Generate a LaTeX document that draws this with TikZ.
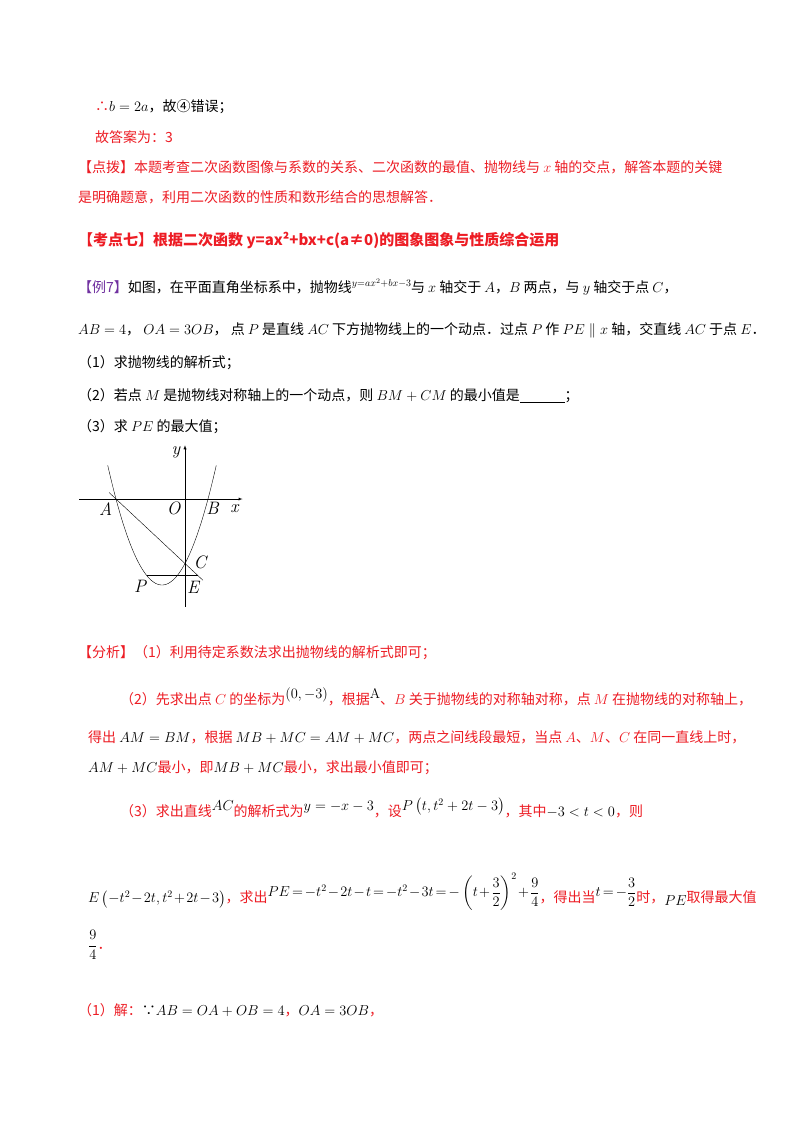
\documentclass[tikz,border=0pt]{standalone}
\usepackage{amsmath}
\usepackage{fontspec}
\newfontfamily\cjk{Noto Sans CJK SC}
\definecolor{rd}{RGB}{237,28,36}
\definecolor{pu}{RGB}{112,48,160}
\newcommand{\up}[1]{\raisebox{6pt}{\textcolor{black}{#1}}}
\begin{document}
\begin{tikzpicture}[x=1pt,y=-1pt,
  t/.style={anchor=west,inner sep=0pt,font=\fontsize{14}{16}\selectfont\cjk},
  lbl/.style={inner sep=0pt,font=\fontsize{18}{20}\selectfont\itshape\rmfamily}]
\useasboundingbox (0,0) rectangle (800,1132);
\fill[white] (0,0) rectangle (800,1132);
\node[t] (l1) at (95,107) {\textcolor{rd}{∴}$b=2a$，故④错误；};
\node[t,text=rd] (l2) at (95,137) {故答案为：3};
\node[t,text=rd] (l3) at (78,167) {【点拨】本题考查二次函数图像与系数的关系、二次函数的最值、抛物线与 $x$ 轴的交点，解答本题的关键};
\node[t,text=rd] (l4) at (78,197) {是明确题意，利用二次函数的性质和数形结合的思想解答．};
\node[t,text=rd,font=\fontsize{15}{16}\selectfont\cjk\bfseries] (l5) at (78,240) {【考点七】根据二次函数 y=ax²+bx+c(a≠0)的图象图象与性质综合运用};
\node[t] (l6) at (78,287) {\textcolor{pu}{【例7】}如图，在平面直角坐标系中，抛物线\up{$\scriptstyle y=ax^2+bx-3$}与 $x$ 轴交于 $A$，$B$ 两点，与 $y$ 轴交于点 $C$，};
\node[t] (l7) at (78,330) {$AB=4$， $OA=3OB$， 点 $P$ 是直线 $AC$ 下方抛物线上的一个动点．过点 $P$ 作 $PE\parallel x$ 轴，交直线 $AC$ 于点 $E$．};
\node[t] (l8) at (78,363) {（1）求抛物线的解析式；};
\node[t] (l9) at (78,396) {（2）若点 $M$ 是抛物线对称轴上的一个动点，则 $BM+CM$ 的最小值是\underline{\hspace{3.2em}}；};
\node[t] (l10) at (78,427) {（3）求 $PE$ 的最大值；};
% graph
\begin{scope}[shift={(185,499)},x=23pt,y=21.5pt]
\draw[-latex] (-4.6,0) -- (2.5,0);
\draw[-latex] (0,-5.0) -- (0,2.5);
\draw[domain=-3.36:1.36,samples=80] plot (\x,{(\x+1)^2-4});
\draw (-3.3,0.3) -- (0.78,-3.78);
\draw (-1.66,-3.56) -- (0.56,-3.56);
\node[lbl] (ny) at (-0.4,2.15) {y};
\node[lbl] (nx) at (2.15,-0.45) {x};
\node[lbl] (nA) at (-3.45,-0.45) {A};
\node[lbl] (nO) at (-0.5,-0.45) {O};
\node[lbl] (nB) at (1.2,-0.45) {B};
\node[lbl] (nC) at (0.65,-2.95) {C};
\node[lbl] (nP) at (-1.95,-4.05) {P};
\node[lbl] (nE) at (0.35,-4.1) {E};
\end{scope}
\node[t,text=rd] (a1) at (78,653) {【分析】（1）利用待定系数法求出抛物线的解析式即可；};
\node[t,text=rd] (a2) at (120,697) {（2）先求出点 $C$ 的坐标为\up{$(0,-3)$}，根据\up{$\mathrm{A}$}、$B$ 关于抛物线的对称轴对称，点 $M$ 在抛物线的对称轴上，};
\node[t,text=rd] (a3) at (88,737) {得出 \textcolor{black}{$AM=BM$}，根据 \textcolor{black}{$MB+MC=AM+MC$}，两点之间线段最短，当点 $A$、$M$、$C$ 在同一直线上时，};
\node[t,text=rd] (a4) at (88,768) {\textcolor{black}{$AM+MC$}最小，即\textcolor{black}{$MB+MC$}最小，求出最小值即可；};
\node[t,text=rd] (a5) at (120,808) {（3）求出直线\up{$AC$}的解析式为\up{$y=-x-3$}，设\up{$P\left(t,t^2+2t-3\right)$}，其中\textcolor{black}{$-3<t<0$}，则};
\node[t,text=rd] (a6) at (88,892) {\medmuskip=1.5mu\thickmuskip=2.5mu\textcolor{black}{$E\left(-t^2-2t,t^2+2t-3\right)$}，求出\up{$PE=-t^2-2t-t=-t^2-3t=-\left(t+\dfrac{3}{2}\right)^2+\dfrac{9}{4}$}，得出当\up{$t=-\dfrac{3}{2}$}时，\raisebox{-3pt}{\textcolor{black}{$PE$}}取得最大值};
\node[t,text=rd] (a7) at (88,945) {\textcolor{black}{$\dfrac{9}{4}$}．};
\node[t,text=rd] (a8) at (78,1010) {（1）解：\textcolor{black}{∵$AB=OA+OB=4$}，\textcolor{black}{$OA=3OB$}，};
\end{tikzpicture}
\end{document}
